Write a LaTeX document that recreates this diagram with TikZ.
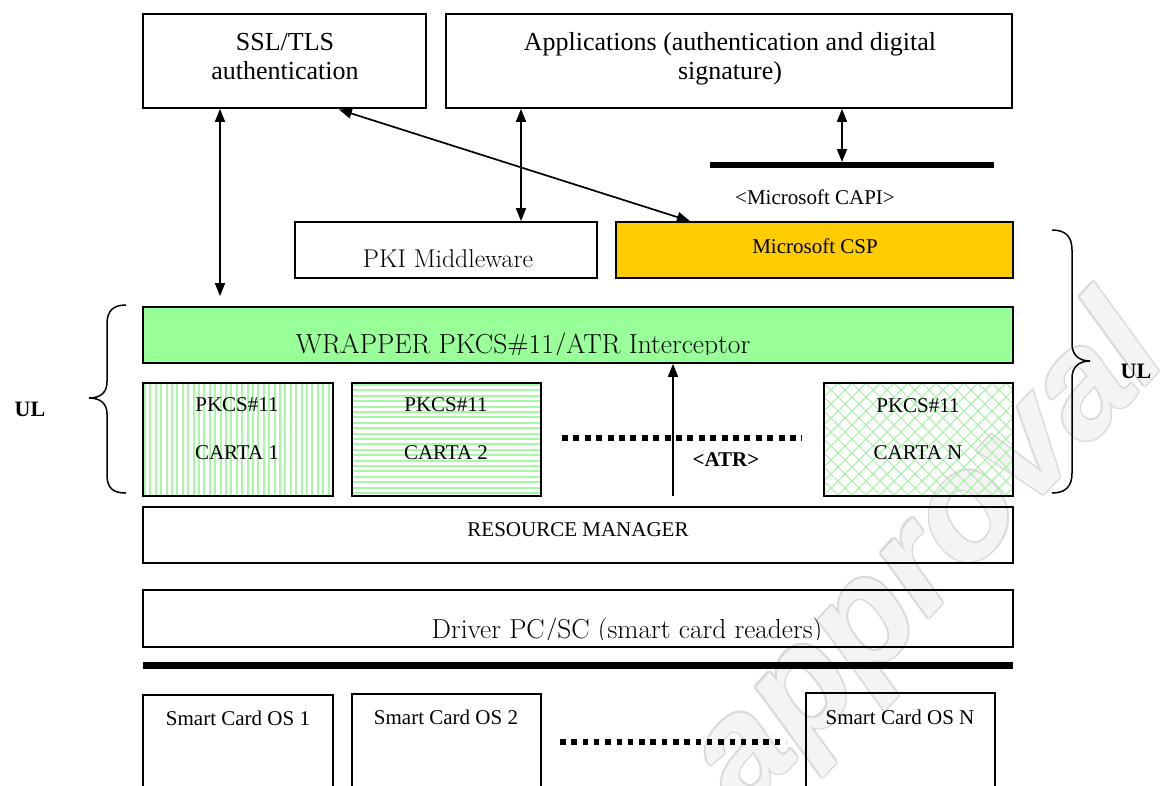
\documentclass[tikz,border=0pt]{standalone}
\usepackage{fontspec}
\newfontfamily\timesf{Liberation Serif}
\newfontfamily\wmfont{Liberation Sans}
\usetikzlibrary{arrows.meta}
\definecolor{wrapgreen}{HTML}{99FF99}
\definecolor{cspgold}{HTML}{FFCC00}
\definecolor{stripegreen}{HTML}{A6F7A6}
\definecolor{hatchgreen}{HTML}{9DF29D}

\begin{document}
\begin{tikzpicture}[x=1pt,y=-1pt,
  box/.style={draw=black, line width=1.8pt, rectangle, inner sep=0pt},
  link/.style={line width=1.7pt, {Triangle[length=13pt,width=10pt]}-{Triangle[length=13pt,width=10pt]}},
  uplink/.style={line width=1.7pt, -{Triangle[length=13pt,width=10pt]}},
  dotline/.style={line width=6pt, dash pattern=on 6pt off 5.4pt},
  bar/.style={line width=6pt},
  brace/.style={line width=1.5pt},
  tm/.style={font=\timesf\fontsize{21}{25}\selectfont},
  top/.style={font=\timesf\fontsize{26}{29}\selectfont, anchor=base},
  ul/.style={font=\timesf\bfseries\fontsize{22}{22}\selectfont},
  wmark/.style={rotate=47, font=\wmfont\bfseries\itshape\fontsize{150}{150}\selectfont},
  vstripes/.style={path picture={
    \foreach \i in {0,...,36}
      \draw[stripegreen, line width=2pt]
        ([xshift=\i*5.4pt+2pt]path picture bounding box.north west) --
        ([xshift=\i*5.4pt+2pt]path picture bounding box.south west);}},
  hstripes/.style={path picture={
    \foreach \i in {0,...,22}
      \draw[stripegreen, line width=2pt]
        ([yshift=-\i*5.4pt-2pt]path picture bounding box.north west) --
        ([yshift=-\i*5.4pt-2pt]path picture bounding box.north east);}},
  xhatch/.style={path picture={
    \foreach \i in {-10,...,24} {
      \draw[hatchgreen, line width=0.9pt]
        ([xshift=\i*14pt]path picture bounding box.north west) -- ++(130,130);
      \draw[hatchgreen, line width=0.9pt]
        ([xshift=\i*14pt]path picture bounding box.north west) -- ++(-130,130);}}}
]
\useasboundingbox (0,0) rectangle (1164,785);
\clip (0,0) rectangle (1164,785);
\fill[white] (0,0) rectangle (1164,785);

% faint outlined background watermark
\coordinate (wmc) at (930,560);
\foreach \a in {0,45,...,315}
  \node[wmark, text=gray!30] (wm\a) at ([shift={(\a:1.6pt)}]wmc) {approval};
\node[wmark, text=gray!9] (wm) at (wmc) {approval};

% top row
\node[box, minimum width=283pt, minimum height=94pt] (ssl) at (284.5,61) {};
\node[top] (ssltext1) at (285,50) {SSL/TLS};
\node[top] (ssltext2) at (285,79) {authentication};
\node[box, minimum width=566pt, minimum height=94pt] (apps) at (729,61) {};
\node[top] (appstext1) at (730,50) {Applications (authentication and digital};
\node[top] (appstext2) at (730,79) {signature)};

% CAPI bar
\coordinate (capiL) at (710,165);
\coordinate (capiR) at (994,165);
\draw[bar] (capiL) -- (capiR);
\node[font=\timesf\fontsize{21}{24}\selectfont] (capitext) at (815,197) {<Microsoft CAPI>};

% middleware row
\node[box, minimum width=302pt, minimum height=56pt] (pki) at (446,250) {};
\node[font=\fontsize{25.7}{30}\selectfont] (pkitext) at (448,259) {PKI Middleware};
\node[box, fill=cspgold, minimum width=397pt, minimum height=56pt] (csp) at (814.5,250) {};
\node[tm] (csptext) at (815,246) {Microsoft CSP};

% wrapper
\node[box, fill=wrapgreen, minimum width=870pt, minimum height=56pt] (wrapper) at (578,335) {};
\begin{scope}
  \clip (143,307) rectangle (1013,354.5);
  \node[anchor=base, font=\fontsize{27.5}{32}\selectfont] (wraptext) at (523,353) {WRAPPER PKCS\#11/ATR Interceptor};
\end{scope}

% PKCS#11 modules
\node[box, vstripes, minimum width=190pt, minimum height=113pt] (carta1) at (238,439.5) {};
\node[tm] (c1a) at (237,405) {PKCS\#11};
\node[tm] (c1b) at (237,453) {CARTA 1};
\node[box, hstripes, minimum width=189pt, minimum height=113pt] (carta2) at (446.5,439.5) {};
\node[tm] (c2a) at (446,405) {PKCS\#11};
\node[tm] (c2b) at (446,453) {CARTA 2};
\node[box, xhatch, minimum width=189pt, minimum height=113pt] (cartaN) at (918.5,439.5) {};
\node[tm] (cNa) at (918,406) {PKCS\#11};
\node[tm] (cNb) at (918,453) {CARTA N};

\coordinate (dotL) at (562,438);
\coordinate (dotR) at (802,438);
\draw[dotline] (dotL) -- (dotR);

\coordinate (atrbase) at (673,496);
\draw[uplink] (atrbase) -- (wrapper.south -| atrbase);
\node[font=\timesf\bfseries\fontsize{21}{25}\selectfont] (atr) at (726,460) {<ATR>};

% lower layers
\node[box, minimum width=870pt, minimum height=56pt] (res) at (578,535) {};
\node[tm] (restext) at (578,530) {RESOURCE MANAGER};
\node[box, minimum width=870pt, minimum height=57pt] (drv) at (578,618.5) {};
\begin{scope}
  \clip (143,590) rectangle (1013,639);
  \node[anchor=base, font=\fontsize{27.4}{32}\selectfont] (drvtext) at (627,638) {Driver PC/SC (smart card readers)};
\end{scope}
\coordinate (busL) at (143,665.5);
\coordinate (busR) at (1013,665.5);
\draw[line width=7.5pt] (busL) -- (busR);

% smart cards
\node[box, minimum width=190pt, minimum height=110pt] (os1) at (238,750) {};
\node[tm] (os1text) at (238,718) {Smart Card OS 1};
\node[box, minimum width=189pt, minimum height=112pt] (os2) at (446.5,750) {};
\node[tm] (os2text) at (446,717) {Smart Card OS 2};
\node[box, minimum width=189pt, minimum height=114pt] (osN) at (900.5,750) {};
\node[tm] (osNtext) at (900,717) {Smart Card OS N};
\coordinate (dot2L) at (560,742);
\coordinate (dot2R) at (786,742);
\draw[dotline, dash pattern=on 5.5pt off 5.8pt] (dot2L) -- (dot2R);

% connectors from the top row
\coordinate (ax1) at (220,0);
\coordinate (ax2) at (521,0);
\coordinate (ax3) at (842,0);
\coordinate (ax4) at (337,0);
\coordinate (ax5) at (690,0);
\draw[link, shorten >=10pt] (ssl.south -| ax1) -- (wrapper.north -| ax1);
\draw[link] (apps.south -| ax2) -- (pki.north -| ax2);
\draw[link, shorten >=3pt] (apps.south -| ax3) -- (capiL -| ax3);
\draw[link, shorten <=2pt] (ssl.south -| ax4) -- (csp.north -| ax5);

% braces
\draw[brace] (126,305) .. controls (113,305) and (107,311) .. (107,324)
  -- (107,382) .. controls (107,392) and (101,398) .. (89,398)
  .. controls (101,398) and (107,404) .. (107,414)
  -- (107,475) .. controls (107,488) and (113,493) .. (126,493);
\node[ul] (ulleft) at (30,409) {UL};
\draw[brace] (1052,230) .. controls (1066,230) and (1072,237) .. (1072,250)
  -- (1072,344) .. controls (1072,354) and (1078,361) .. (1090,361)
  .. controls (1078,361) and (1072,368) .. (1072,378)
  -- (1072,473) .. controls (1072,486) and (1066,493) .. (1052,493);
\node[ul] (ulright) at (1136,371) {UL};
\end{tikzpicture}
\end{document}
